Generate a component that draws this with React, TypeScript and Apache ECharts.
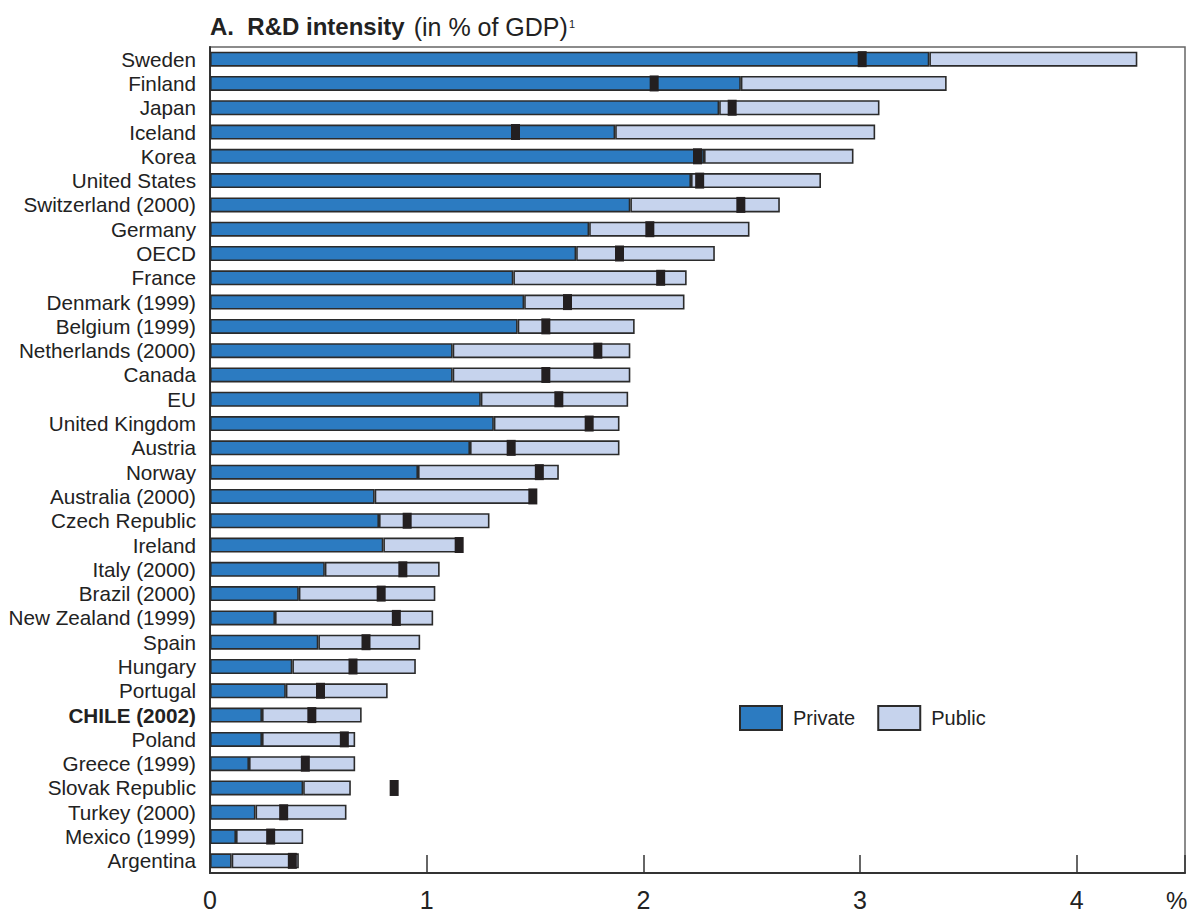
import React, { useEffect, useRef } from "react";
import * as echarts from "echarts";

const categories = [
  "Sweden", "Finland", "Japan", "Iceland", "Korea", "United States", "Switzerland (2000)",
  "Germany", "OECD", "France", "Denmark (1999)", "Belgium (1999)", "Netherlands (2000)",
  "Canada", "EU", "United Kingdom", "Austria", "Norway", "Australia (2000)", "Czech Republic",
  "Ireland", "Italy (2000)", "Brazil (2000)", "New Zealand (1999)", "Spain", "Hungary",
  "Portugal", "CHILE (2002)", "Poland", "Greece (1999)", "Slovak Republic", "Turkey (2000)",
  "Mexico (1999)", "Argentina",
];

const privateVals = [
  3.32, 2.45, 2.35, 1.87, 2.28, 2.22, 1.94, 1.75, 1.69, 1.40, 1.45, 1.42, 1.12, 1.12, 1.25,
  1.31, 1.20, 0.96, 0.76, 0.78, 0.80, 0.53, 0.41, 0.30, 0.50, 0.38, 0.35, 0.24, 0.24, 0.18,
  0.43, 0.21, 0.12, 0.10,
];

const publicVals = [
  0.96, 0.95, 0.74, 1.20, 0.69, 0.60, 0.69, 0.74, 0.64, 0.80, 0.74, 0.54, 0.82, 0.82, 0.68,
  0.58, 0.69, 0.65, 0.74, 0.51, 0.36, 0.53, 0.63, 0.73, 0.47, 0.57, 0.47, 0.46, 0.43, 0.49,
  0.22, 0.42, 0.31, 0.31,
];

const markerVals = [
  3.01, 2.05, 2.41, 1.41, 2.25, 2.26, 2.45, 2.03, 1.89, 2.08, 1.65, 1.55, 1.79, 1.55, 1.61,
  1.75, 1.39, 1.52, 1.49, 0.91, 1.15, 0.89, 0.79, 0.86, 0.72, 0.66, 0.51, 0.47, 0.62, 0.44,
  0.85, 0.34, 0.28, 0.38,
];

const xTicks = [0, 1, 2, 3, 4];

const FONT = "'Liberation Sans', Arial, Helvetica, sans-serif";

export default function App() {
  const ref = useRef<HTMLDivElement>(null);

  useEffect(() => {
    document.body.style.margin = "0";
    if (!ref.current) return;
    const chart = echarts.init(ref.current, undefined, { renderer: "svg" });
    const border = "#2b2b2b";
    chart.setOption({
      animation: false,
      backgroundColor: "#ffffff",
      textStyle: { fontFamily: FONT },
      grid: {
        left: 210,
        right: 1,
        top: 47,
        bottom: 38,
        show: true,
        borderColor: "#666",
        borderWidth: 1.5,
        containLabel: false,
      },
      legend: {
        data: ["Private", "Public"],
        left: 739,
        top: 705,
        padding: 0,
        itemWidth: 42,
        itemHeight: 24,
        itemGap: 22,
        icon: "rect",
        textStyle: { fontSize: 20, color: "#222", fontFamily: FONT, padding: [0, 0, 0, 6] },
      },
      xAxis: {
        type: "value",
        min: 0,
        max: 4.5,
        interval: 1,
        axisLine: { show: true, lineStyle: { color: "#333", width: 2 } },
        axisTick: { show: true, inside: true, length: 18, lineStyle: { color: "#333", width: 1.5 } },
        splitLine: { show: false },
        axisLabel: {
          fontSize: 25,
          color: "#222",
          margin: 14,
          fontFamily: FONT,
          formatter: (v: number) => (xTicks.indexOf(v) >= 0 ? String(v) : ""),
        },
      },
      yAxis: {
        type: "category",
        data: categories,
        inverse: true,
        axisLine: { show: true, lineStyle: { color: "#333", width: 2 } },
        axisTick: { show: false },
        axisLabel: {
          interval: 0,
          fontSize: 20.7,
          color: "#222",
          margin: 14,
          fontFamily: FONT,
          formatter: (v: string) => (v.indexOf("CHILE") === 0 ? `{b|${v}}` : v),
          rich: { b: { fontWeight: "bold", fontSize: 20.7, color: "#222", fontFamily: FONT } },
        },
      },
      graphic: [
        {
          type: "text",
          left: 210,
          top: 14,
          style: {
            text: "{b|A.  R&D intensity}{g| }{n|(in % of GDP)}{s|1}",
            rich: {
              b: { fontWeight: "bold", fontSize: 24, fill: "#222", fontFamily: FONT },
              g: { fontSize: 24, width: 9, fontFamily: FONT },
              n: { fontSize: 25, fill: "#222", fontFamily: FONT },
              s: { fontSize: 11, fill: "#222", fontFamily: FONT, padding: [0, 0, 6, 1] },
            },
          },
        },
        {
          type: "text",
          left: 1166,
          top: 888,
          style: { text: "%", fontSize: 24, fill: "#222", fontFamily: FONT },
        },
      ],
      series: [
        {
          name: "Private",
          type: "bar",
          stack: "rd",
          barWidth: 15,
          data: privateVals,
          itemStyle: { color: "#2c7bc1", borderColor: border, borderWidth: 1.6 },
          z: 2,
        },
        {
          name: "Public",
          type: "bar",
          stack: "rd",
          barWidth: 15,
          data: publicVals,
          itemStyle: { color: "#c6d3ed", borderColor: border, borderWidth: 1.6 },
          z: 2,
        },
        {
          name: "1995",
          type: "scatter",
          symbol: "rect",
          symbolSize: [9, 16],
          data: markerVals.map((v, i) => [v, categories[i]]),
          itemStyle: { color: "#231f20", opacity: 1 },
          z: 5,
        },
      ],
    });
    return () => chart.dispose();
  }, []);

  return <div ref={ref} style={{ width: 1188, height: 912 }} />;
}
